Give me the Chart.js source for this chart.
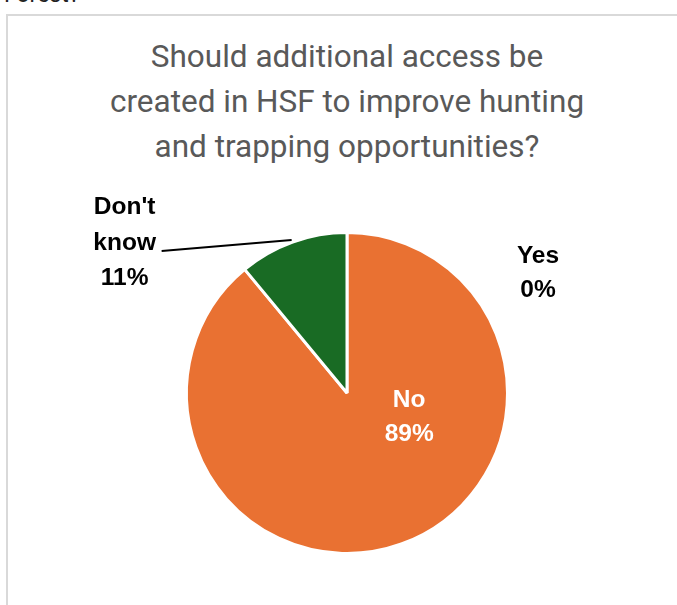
<!DOCTYPE html>
<html lang="en">
<head>
  <meta charset="UTF-8" />
  <title>HSF access survey</title>
  <script src="https://cdn.jsdelivr.net/npm/chart.js"></script>
  <style>
    body {
      margin: 0;
      width: 677px;
      height: 605px;
      overflow: hidden;
      background: #ffffff;
      font-family: Roboto, sans-serif;
      position: relative;
    }
    .above {
      position: absolute;
      left: 4px;
      top: -19px;
      font-size: 23px;
      color: #222;
    }
    .frame {
      position: absolute;
      left: 6px;
      top: 14px;
      width: 700px;
      height: 620px;
      border: 2px solid #d9d9d9;
    }
    .title {
      position: absolute;
      left: 6px;
      width: 682px;
      top: 34px;
      text-align: center;
      font-size: 31.5px;
      line-height: 45px;
      color: #595959;
    }
    #pie {
      position: absolute;
      left: 0;
      top: 0;
    }
  </style>
</head>
<body>

<div class="above">Forest?</div>
<div class="frame"></div>
<div class="title">Should additional access be<br>created in HSF to improve hunting<br>and trapping opportunities?</div>
<canvas id="pie" width="677" height="605"></canvas>

<script>
  const answers = ['Yes', 'No', "Don't know"];
  const shares = [0, 89, 11];
  const sliceColors = ['#156082', '#E97132', '#196B24'];

  // how each label is wrapped, its colour, and where it sits relative to its slice
  const labelLines = [['Yes', '0%'], ['No', '89%'], ["Don't", 'know', '11%']];
  const labelColors = ['#000000', '#ffffff', '#000000'];
  const labelShift = [[191, 41], [35, -51], [-168, 1]];

  const sliceLabels = {
    id: 'sliceLabels',
    afterDatasetsDraw(chart) {
      const c = chart.ctx;
      const arcs = chart.getDatasetMeta(0).data;
      c.save();
      c.font = 'bold 24.5px "Liberation Sans", Arial, sans-serif';
      c.textAlign = 'center';
      c.textBaseline = 'middle';
      arcs.forEach((arc, i) => {
        const mid = (arc.startAngle + arc.endAngle) / 2;
        let ax, ay;
        if (i === 1) {
          const p = arc.tooltipPosition();
          ax = p.x; ay = p.y;
        } else {
          ax = arc.x + Math.cos(mid) * arc.outerRadius;
          ay = arc.y + Math.sin(mid) * arc.outerRadius;
        }
        const lx = ax + labelShift[i][0];
        const ly = ay + labelShift[i][1];
        const lines = labelLines[i];
        const lh = lines.length === 3 ? 35.5 : 34;
        c.fillStyle = labelColors[i];
        lines.forEach((t, k) => {
          c.fillText(t, lx, ly + (k - (lines.length - 1) / 2) * lh);
        });
        // leader line for the small slice
        if (i === 2) {
          c.strokeStyle = '#000';
          c.lineWidth = 2;
          c.beginPath();
          c.moveTo(lx + 37, ly + 8);
          c.lineTo(ax - 1, ay - 2);
          c.stroke();
        }
      });
      c.restore();
    }
  };

  new Chart(document.getElementById('pie'), {
    type: 'pie',
    data: {
      labels: answers,
      datasets: [{
        data: shares,
        backgroundColor: sliceColors,
        borderColor: '#ffffff',
        borderWidth: 3
      }]
    },
    options: {
      responsive: false,
      animation: false,
      layout: { padding: { top: 231, bottom: 50, left: 185, right: 168 } },
      plugins: {
        legend: { display: false },
        tooltip: { enabled: false },
        title: { display: false }
      }
    },
    plugins: [sliceLabels]
  });
</script>

</body>
</html>
